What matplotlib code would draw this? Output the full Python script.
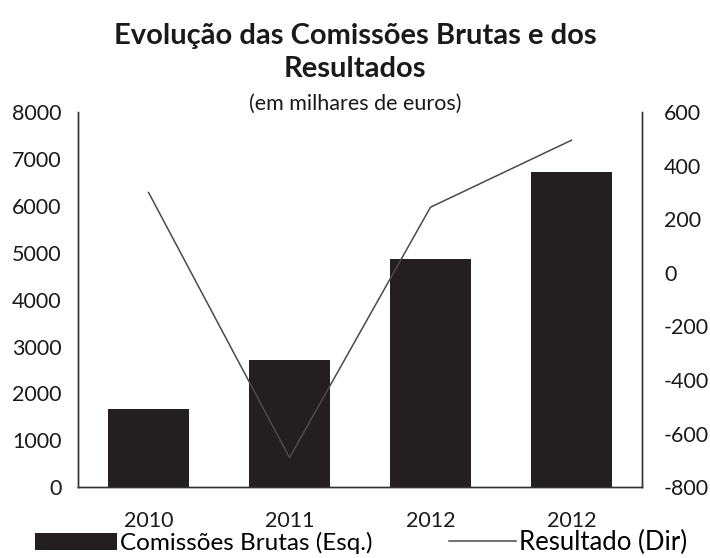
import matplotlib.pyplot as plt
import numpy as np

plt.rcParams['font.family'] = ['Lato', 'DejaVu Sans']
plt.rcParams['axes.unicode_minus'] = False

years = ['2010', '2011', '2012', '2012']
comissoes = [1660, 2720, 4870, 6720]
resultado = [300, -690, 245, 495]

fig = plt.figure(figsize=(7.1, 5.58), dpi=100)
ax = fig.add_axes([0.11, 0.127, 0.794, 0.672])
x = np.arange(len(years))

bars = ax.bar(x, comissoes, width=0.58, color='#231f20', label='Comissões Brutas (Esq.)')
ax.set_xlim(-0.5, len(years) - 0.5)
ax.set_ylim(0, 8000)
ax.set_yticks(np.arange(0, 8001, 1000))
ax.set_xticks(x)
ax.set_xticklabels(years)

ax2 = ax.twinx()
line, = ax2.plot(x, resultado, color='#4a4a4a', lw=1.1, label='Resultado (Dir)')
ax2.set_ylim(-800, 600)
ax2.set_yticks(np.arange(-800, 601, 200))

for a in (ax, ax2):
    a.spines['top'].set_visible(False)
    for s in a.spines.values():
        s.set_linewidth(1.0)
        s.set_color('#333333')
    a.tick_params(length=0, labelsize=15.5, colors='#1a1a1a')
ax.tick_params(axis='y', pad=12)
ax2.tick_params(axis='y', pad=16)
ax.tick_params(axis='x', pad=17)

fig.text(0.5, 0.906, 'Evolução das Comissões Brutas e dos\nResultados', ha='center', va='center',
         fontsize=21, fontweight='bold', linespacing=1.3, color='#1a1a1a')
fig.text(0.5, 0.814, '(em milhares de euros)', ha='center', va='center', fontsize=15.5, color='#1a1a1a')

leg1 = fig.legend([bars], ['Comissões Brutas (Esq.)'], loc='lower left',
                  bbox_to_anchor=(0.018, -0.032), frameon=False, fontsize=17.5,
                  handlelength=3.4, handletextpad=0.1)
leg2 = fig.legend([line], ['Resultado (Dir)'], loc='lower right',
                  bbox_to_anchor=(1.0, -0.036), frameon=False, fontsize=18.5,
                  handlelength=2.6, handletextpad=0.1)

fig.savefig('out.png', dpi=100)
